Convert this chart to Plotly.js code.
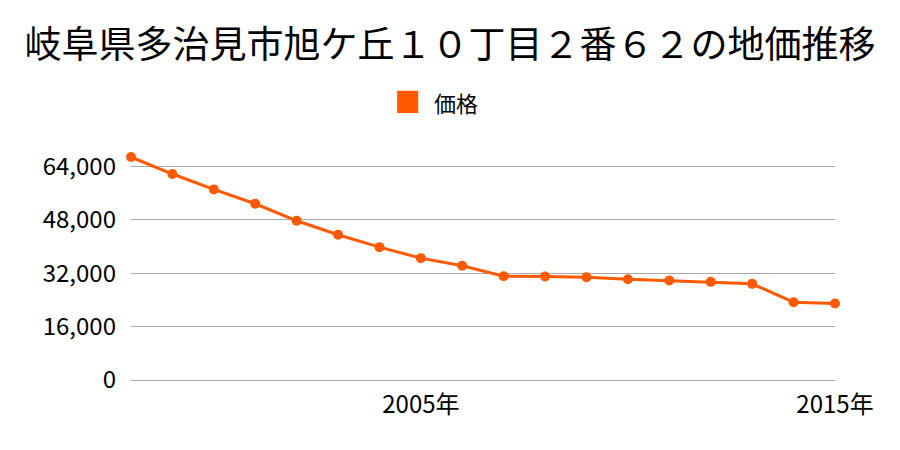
<!DOCTYPE html>
<html><head><meta charset="utf-8">
<script src="https://cdn.plot.ly/plotly-3.0.1.min.js"></script>
<style>html,body{margin:0;padding:0;background:#fff}</style>
</head><body>
<div id="chart" style="width:900px;height:450px"></div>
<script>
const years = [1998,1999,2000,2001,2002,2003,2004,2005,2006,2007,2008,2009,2010,2011,2012,2013,2014,2015];
const prices = [66800,61700,57100,52800,47700,43500,39800,36500,34200,31100,31000,30800,30200,29800,29400,28800,23300,22900];
const seriesName = '価格';
const yTicks = [0,16000,32000,48000,64000];
const yTickText = ['0','16,000','32,000','48,000','64,000'];
const xTicks = [2005,2015];
const xTickText = ['2005年','2015年'];
const titleText = '岐阜県多治見市旭ケ丘１０丁目２番６２の地価推移';
const font = '"Noto Sans CJK JP", "Noto Sans", sans-serif';
const color = '#ff5a00';

Plotly.newPlot('chart', [{
  x: years, y: prices, name: seriesName, type: 'scatter', mode: 'lines+markers',
  line: {color: color, width: 3},
  marker: {color: color, size: 10},
  cliponaxis: false, showlegend: false
}], {
  width: 900, height: 450,
  margin: {l: 131, r: 65, t: 153, b: 70},
  paper_bgcolor: '#fff', plot_bgcolor: '#fff',
  font: {family: font, color: '#000'},
  title: {text: titleText, font: {size: 37, family: font, color: '#000'}, x: 0.5, xanchor: 'center', xref: 'container', y: 0.9, yanchor: 'middle', yref: 'container'},
  showlegend: false,
  shapes: [{type: 'rect', xref: 'paper', yref: 'paper', x0: 0.378, x1: 0.408, y0: 1.176, y1: 1.274, fillcolor: color, line: {width: 0}}],
  annotations: [{text: seriesName, xref: 'paper', yref: 'paper', x: 0.427, y: 1.225, xanchor: 'left', yanchor: 'middle', showarrow: false, font: {size: 22, family: font, color: '#000'}}],
  xaxis: {range: [1998, 2015], tickvals: xTicks, ticktext: xTickText, showgrid: false, zeroline: false, showline: false, ticks: '', ticklabelstandoff: 8, tickfont: {size: 24, family: font}, fixedrange: true},
  yaxis: {range: [0, 68000], tickvals: yTicks, ticktext: yTickText, showgrid: true, gridcolor: '#aaaaaa', gridwidth: 1, zeroline: true, zerolinecolor: '#aaaaaa', zerolinewidth: 1, showline: false, ticks: '', ticklabelstandoff: 14, tickfont: {size: 24, family: font}, fixedrange: true}
}, {displayModeBar: false, staticPlot: true});
</script>
</body></html>
